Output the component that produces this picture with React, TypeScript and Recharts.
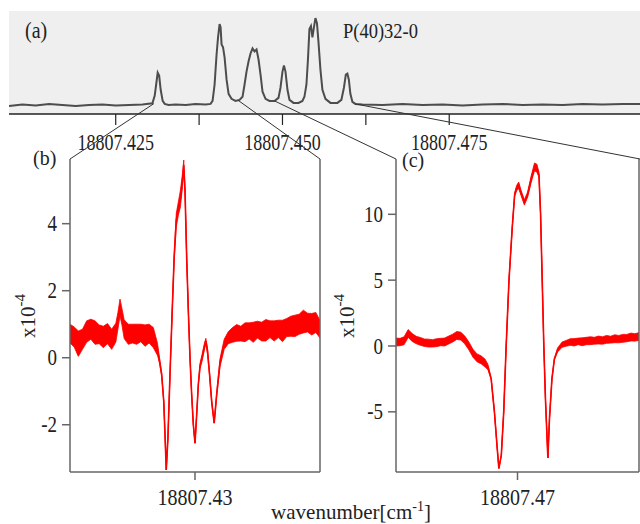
import React from "react";
import { ComposedChart, LineChart, Line, Area, XAxis, YAxis, CartesianGrid } from "recharts";

const SERIF = "Liberation Serif, DejaVu Serif, serif";
const BASE = 18807;

// (a) overview spectrum: wavenumber (fraction after 18807) and intensity (arb.)
const aWn = [
  0.409, 0.411, 0.413, 0.415, 0.417, 0.419, 0.421, 0.423, 0.425, 0.427, 0.429, 0.4305,
  0.43084, 0.43106, 0.43129, 0.43151, 0.43174, 0.43204, 0.43234, 0.43293, 0.43398, 0.43548,
  0.43698, 0.43847, 0.43922, 0.43952, 0.43982, 0.44012, 0.44034, 0.44057, 0.44072, 0.44087,
  0.44109, 0.44132, 0.44162, 0.44192, 0.44236, 0.44296, 0.44356, 0.44401, 0.44431, 0.44461,
  0.44491, 0.44521, 0.44551, 0.44581, 0.44611, 0.44641, 0.44671, 0.44701, 0.44746, 0.44805,
  0.4488, 0.4494, 0.4497, 0.45, 0.45022, 0.45045, 0.45075, 0.45105, 0.45165, 0.4524, 0.45299,
  0.45329, 0.45359, 0.45382, 0.45404, 0.45427, 0.45449, 0.45472, 0.45494, 0.45517, 0.45539,
  0.45569, 0.45599, 0.45644, 0.45719, 0.45823, 0.45883, 0.45921, 0.4595, 0.45973, 0.45995,
  0.46018, 0.46048, 0.46093, 0.462, 0.465, 0.468, 0.471, 0.474, 0.477, 0.48, 0.483, 0.486,
  0.489, 0.492, 0.495, 0.498, 0.501, 0.5036,
];
const aInt = [
  0.078, 0.093, 0.083, 0.098, 0.088, 0.078, 0.088, 0.093, 0.083, 0.088, 0.093, 0.104,
  0.176, 0.284, 0.402, 0.373, 0.235, 0.127, 0.098, 0.088, 0.093, 0.088,
  0.098, 0.093, 0.098, 0.127, 0.284, 0.578, 0.745, 0.873, 0.843, 0.676,
  0.647, 0.549, 0.333, 0.196, 0.147, 0.127, 0.137, 0.167, 0.284, 0.412,
  0.51, 0.588, 0.637, 0.608, 0.627, 0.529, 0.382, 0.216, 0.147, 0.127,
  0.127, 0.157, 0.255, 0.412, 0.471, 0.412, 0.235, 0.137, 0.108, 0.108, 0.127,
  0.167, 0.284, 0.529, 0.824, 0.853, 0.745, 0.843, 0.931, 0.882, 0.706,
  0.431, 0.235, 0.147, 0.108, 0.108, 0.137, 0.255, 0.382, 0.392, 0.333,
  0.196, 0.118, 0.098, 0.093, 0.088, 0.098, 0.088, 0.093, 0.083, 0.093, 0.098, 0.088,
  0.093, 0.088, 0.098, 0.093, 0.098, 0.098,
];
const aTicks = [0.425, 0.4375, 0.45, 0.4625, 0.475];
const aMajor = [true, false, true, false, true];
const aDomain = [0.409, 0.5036];

// where the zoomed panels hang off the overview trace
const linkWn = [0.4307, 0.4433, 0.4488, 0.4609];
const linkInt = [0.1, 0.135, 0.127, 0.098];

// (b) offset from 18807.43 in 1e-4 cm-1, signal x10^-4, noise half-width
const bOff = [
  -30, -29, -28, -27, -26, -25, -24, -23, -22, -21, -20, -19, -18.5, -18, -17.5, -17, -16, -15,
  -14, -13, -12, -11, -10, -9, -8.5, -8, -7.5, -7.2, -6.9, -6.5, -6, -5.5, -5, -4.5, -4, -3.5,
  -3, -2.7, -2.4, -2, -1.6, -1.2, -0.8, -0.4, 0, 0.4, 0.8, 1.2, 1.7, 2.2, 2.6, 3.0, 3.5, 4.0,
  4.6, 5.2, 6.0, 7, 8, 9, 10, 11, 12, 13, 14, 15, 16, 17, 18, 19, 20, 21, 22, 23, 24, 25, 26,
  27, 28, 29, 30,
];
const bSig = [
  0.72, 0.62, 0.42, 0.55, 0.78, 0.85, 0.75, 0.7, 0.62, 0.72, 0.55, 0.75, 1.1, 1.5, 1.2, 0.85,
  0.7, 0.72, 0.7, 0.74, 0.66, 0.72, 0.6, 0.25, -0.1, -0.5, -1.3, -2.3, -3.35, -2.4, -0.5, 1.3,
  3.0, 4.1, 4.45, 4.75, 5.3, 5.75, 5.0, 3.0, 1.4, 0.0, -1.1, -2.0, -2.55, -1.7, -0.8, -0.25,
  0.0, 0.3, 0.5, 0.2, -0.5, -1.3, -1.95, -1.1, -0.15, 0.4, 0.6, 0.68, 0.74, 0.72, 0.76, 0.8,
  0.76, 0.84, 0.78, 0.82, 0.85, 0.8, 0.86, 0.8, 0.9, 0.94, 0.95, 1.0, 1.08, 1.05, 1.0, 1.05,
  0.85,
];
const bNoise = [
  0.28, 0.3, 0.38, 0.3, 0.32, 0.3, 0.35, 0.28, 0.32, 0.3, 0.3, 0.28, 0.25, 0.25, 0.25, 0.28,
  0.3, 0.28, 0.3, 0.26, 0.32, 0.28, 0.3, 0.18, 0.08, 0.05, 0, 0, 0, 0, 0, 0,
  0.05, 0.2, 0.2, 0.25, 0.2, 0.15, 0.05, 0, 0, 0, 0, 0, 0, 0, 0, 0.08,
  0.1, 0.1, 0.08, 0.08, 0.05, 0.05, 0, 0.05, 0.12, 0.15, 0.18, 0.22, 0.25, 0.22, 0.28, 0.24,
  0.3, 0.25, 0.28, 0.32, 0.25, 0.3, 0.26, 0.32, 0.27, 0.3, 0.32, 0.3, 0.34, 0.28, 0.32, 0.3,
  0.26,
];

// (c) offset from 18807.47 in 1e-4 cm-1
const cOff = [
  -30, -29, -28, -27, -26, -25, -24, -23, -22, -21, -20, -19, -18, -17, -16, -15, -14, -13,
  -12, -11, -10, -9, -8, -7.3, -6.5, -5.7, -5.0, -4.6, -4.0, -3.4, -2.8, -2.1, -1.3, -0.7,
  -0.2, 0.3, 0.9, 1.7, 2.5, 3.4, 4.2, 4.8, 5.3, 5.7, 6.1, 6.5, 6.9, 7.5, 7.9, 8.5, 9.1, 9.9,
  11, 12, 13, 14, 15, 16, 17, 18, 19, 20, 21, 22, 23, 24, 25, 26, 27, 28, 29, 30,
];
const cSig = [
  0.3, 0.3, 0.4, 0.95, 0.65, 0.45, 0.35, 0.25, 0.22, 0.2, 0.25, 0.3, 0.3, 0.45, 0.6, 0.8, 0.75,
  0.45, 0.0, -0.55, -0.9, -1.05, -1.3, -1.6, -2.5, -5.0, -7.8, -9.3, -8.3, -5.0, 0, 5.0, 9.0,
  11.5, 12.0, 12.2, 11.6, 10.9, 11.5, 12.7, 13.6, 13.5, 13.0, 10.0, 5.0, 0, -4.0, -8.5, -5.5,
  -2.5, -1.0, -0.3, 0.1, 0.2, 0.3, 0.28, 0.35, 0.32, 0.38, 0.4, 0.4, 0.45, 0.42, 0.5, 0.48,
  0.55, 0.52, 0.58, 0.6, 0.68, 0.65, 0.72,
];
const cNoise = [
  0.3, 0.28, 0.3, 0.3, 0.3, 0.28, 0.3, 0.28, 0.3, 0.28, 0.3, 0.28, 0.3, 0.3, 0.3, 0.3, 0.3,
  0.3, 0.3, 0.3, 0.3, 0.3, 0.3, 0.2, 0.05, 0, 0, 0, 0, 0, 0, 0, 0,
  0.15, 0.2, 0.25, 0.2, 0.2, 0.2, 0.25, 0.3, 0.3, 0.2, 0, 0, 0, 0, 0, 0,
  0, 0.05, 0.15, 0.2, 0.22, 0.25, 0.28, 0.25, 0.3, 0.28, 0.3, 0.26, 0.3, 0.28, 0.3, 0.26,
  0.3, 0.28, 0.3, 0.28, 0.3, 0.28, 0.3,
];

// layout of the three panels on the page
const A = { left: 9, top: 11, width: 631, height: 103 };
const PANEL_TOP = 159;
const B = { left: 70, right: 320 };
const C = { left: 396, right: 639 };

const aData = aWn.map((w, i) => ({ wn: BASE + w, i: aInt[i] }));
const bData = bOff.map((o, i) => ({ off: o, y: bSig[i], s: bNoise[i] }));
const cData = cOff.map((o, i) => ({ off: o, y: cSig[i], s: cNoise[i] }));

const axisStroke = { stroke: "#666", strokeWidth: 1.5 };
const textStyle = { fontFamily: SERIF };

const aPx = (w: number) => A.left + ((w - aDomain[0]) / (aDomain[1] - aDomain[0])) * A.width;
const aPy = (v: number) => A.top + A.height * (1 - v);

// the original figure's lettering is a bit taller than wide, so stretch it vertically
const Stretch: React.FC<{ x: number; y: number; fs: number; sy: number; anchor?: string; children: React.ReactNode }> = ({
  x, y, fs, sy, anchor = "start", children,
}) => (
  <g transform={`translate(${x} ${y}) scale(1 ${sy})`}>
    <text x={0} y={0} fontSize={fs} fill="#222" textAnchor={anchor} style={textStyle}>
      {children}
    </text>
  </g>
);

// tick text: for bottom axes y is the top of the digits, for left axes y is their middle
const makeTick = (fs: number, sy: number, side: "bottom" | "left", fmt: (v: number, i: number) => string) =>
  (props: any) => {
    const { x, y, payload, index, textAnchor } = props;
    const label = fmt(payload.value, index ?? payload.index ?? 0);
    if (!label) return <g />;
    const h = 0.66 * fs * sy;
    const base = side === "bottom" ? y + h : y + h / 2;
    return (
      <Stretch x={x} y={base} fs={fs} sy={sy} anchor={textAnchor}>
        {label}
      </Stretch>
    );
  };

interface PanelProps {
  data: { off: number; y: number; s: number }[];
  center: number;
  domain: [number, number];
  ticks: number[];
  marginLeft: number;
  marginRight: number;
  rightWidth: number;
  rightTicks: boolean;
  width: number;
}

const Panel: React.FC<PanelProps> = ({ data, center, domain, ticks, marginLeft, marginRight, rightWidth, rightTicks, width }) => (
  <ComposedChart
    width={width}
    height={374}
    data={data}
    margin={{ top: 9, right: marginRight, left: marginLeft, bottom: 12 }}
    style={textStyle}
  >
    <XAxis
      type="number"
      dataKey="off"
      domain={[-30, 30]}
      ticks={[0]}
      height={40}
      tickSize={8}
      tickMargin={9}
      axisLine={axisStroke}
      tickLine={axisStroke}
      tick={makeTick(20, 1.2, "bottom", (v) => (center + v * 1e-4).toFixed(2))}
      allowDataOverflow
    />
    <YAxis
      yAxisId="l"
      domain={domain}
      ticks={ticks}
      width={40}
      tickSize={8}
      tickMargin={5}
      axisLine={axisStroke}
      tickLine={axisStroke}
      tick={makeTick(19, 1.2, "left", (v) => String(v))}
      allowDataOverflow
      interval={0}
    />
    <YAxis
      yAxisId="r"
      orientation="right"
      domain={domain}
      ticks={ticks}
      width={rightWidth}
      tickSize={8}
      axisLine={axisStroke}
      tickLine={rightTicks ? axisStroke : false}
      tick={false}
      allowDataOverflow
    />
    <Area
      yAxisId="l"
      type="linear"
      dataKey={(d: { y: number; s: number }) => [d.y - d.s, d.y + d.s]}
      stroke="#ff0000"
      strokeWidth={0.8}
      fill="#ff0000"
      fillOpacity={1}
      isAnimationActive={false}
    />
    <Line
      yAxisId="l"
      type="linear"
      dataKey="y"
      stroke="#ff0000"
      strokeWidth={1.6}
      dot={false}
      isAnimationActive={false}
    />
  </ComposedChart>
);

const YLabel: React.FC<{ x: number; y: number }> = ({ x, y }) => (
  <text
    x={x}
    y={y}
    transform={`rotate(-90 ${x} ${y})`}
    textAnchor="middle"
    style={textStyle}
    fontSize={21}
    fill="#222"
    dominantBaseline="middle"
  >
    x10
    <tspan dy={-8} fontSize={15}>-4</tspan>
  </text>
);

export default function App() {
  const links = [
    [aPx(linkWn[0]), aPy(linkInt[0]), B.left],
    [aPx(linkWn[1]), aPy(linkInt[1]), B.right],
    [aPx(linkWn[2]), aPy(linkInt[2]), C.left],
    [aPx(linkWn[3]), aPy(linkInt[3]), C.right + 1],
  ];
  return (
    <div style={{ position: "absolute", left: 0, top: 0, width: 640, height: 524, background: "#fff", overflow: "hidden", fontFamily: SERIF }}>
      <div style={{ position: "absolute", left: 0, top: 0 }}>
        <LineChart
          width={640}
          height={160}
          data={aData}
          margin={{ top: A.top, right: 0, left: A.left, bottom: 6 }}
          style={textStyle}
        >
          <CartesianGrid horizontal={false} vertical={false} fill="#efefef" />
          <XAxis
            type="number"
            dataKey="wn"
            domain={[BASE + aDomain[0], BASE + aDomain[1]]}
            ticks={aTicks.map((t) => BASE + t)}
            interval={0}
            height={40}
            tickSize={11}
            tickMargin={10}
            axisLine={{ stroke: "#222", strokeWidth: 1.5 }}
            tickLine={{ stroke: "#222", strokeWidth: 1.2 }}
            tick={makeTick(18, 1.25, "bottom", (v, i) => (aMajor[i] ? v.toFixed(3) : ""))}
            allowDataOverflow
          />
          <YAxis hide domain={[0, 1]} allowDataOverflow />
          <Line
            type="linear"
            dataKey="i"
            stroke="#4d4d4d"
            strokeWidth={2}
            dot={false}
            isAnimationActive={false}
          />
        </LineChart>
      </div>
      <div style={{ position: "absolute", left: 0, top: 150 }}>
        <Panel
          data={bData}
          center={BASE + 0.43}
          domain={[-3.41, 5.93]}
          ticks={[-2, 0, 2, 4]}
          marginLeft={30}
          marginRight={2}
          rightWidth={8}
          rightTicks
          width={330}
        />
      </div>
      <div style={{ position: "absolute", left: 330, top: 150 }}>
        <Panel
          data={cData}
          center={BASE + 0.47}
          domain={[-9.57, 14.2]}
          ticks={[-5, 0, 5, 10]}
          marginLeft={26}
          marginRight={0}
          rightWidth={1}
          rightTicks={false}
          width={310}
        />
      </div>
      <svg width={640} height={524} style={{ position: "absolute", left: 0, top: 0, pointerEvents: "none", fontFamily: SERIF }}>
        {links.map(([x1, y1, x2], k) => (
          <line key={k} x1={x1} y1={y1} x2={x2} y2={PANEL_TOP} stroke="#333" strokeWidth={1} />
        ))}
        <Stretch x={25} y={38} fs={20} sy={1.15}>(a)</Stretch>
        <Stretch x={343} y={38} fs={18.5} sy={1.1}>P(40)32-0</Stretch>
        <Stretch x={33} y={165} fs={20} sy={1.1}>(b)</Stretch>
        <Stretch x={402} y={167} fs={20} sy={1.1}>(c)</Stretch>
        <YLabel x={30} y={316} />
        <YLabel x={349} y={316} />
        <text x={351} y={519} textAnchor="middle" style={textStyle} fontSize={21} fill="#222">
          wavenumber[cm
          <tspan dy={-8} fontSize={14}>-1</tspan>
          <tspan dy={8}>]</tspan>
        </text>
      </svg>
    </div>
  );
}
